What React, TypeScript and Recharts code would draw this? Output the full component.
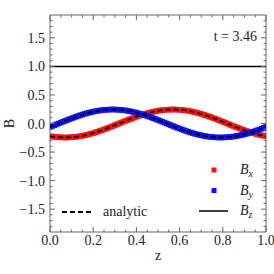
import { ComposedChart, Line, XAxis, YAxis, ReferenceArea, Legend, Label } from "recharts";

const zValues = [
  0, 0.01, 0.02, 0.03, 0.04, 0.05, 0.06, 0.07, 0.08, 0.09, 0.1, 0.11, 0.12, 0.13, 0.14, 0.15, 0.16,
  0.17, 0.18, 0.19, 0.2, 0.21, 0.22, 0.23, 0.24, 0.25, 0.26, 0.27, 0.28, 0.29, 0.3, 0.31, 0.32, 0.33,
  0.34, 0.35, 0.36, 0.37, 0.38, 0.39, 0.4, 0.41, 0.42, 0.43, 0.44, 0.45, 0.46, 0.47, 0.48, 0.49, 0.5,
  0.51, 0.52, 0.53, 0.54, 0.55, 0.56, 0.57, 0.58, 0.59, 0.6, 0.61, 0.62, 0.63, 0.64, 0.65, 0.66, 0.67,
  0.68, 0.69, 0.7, 0.71, 0.72, 0.73, 0.74, 0.75, 0.76, 0.77, 0.78, 0.79, 0.8, 0.81, 0.82, 0.83, 0.84,
  0.85, 0.86, 0.87, 0.88, 0.89, 0.9, 0.91, 0.92, 0.93, 0.94, 0.95, 0.96, 0.97, 0.98, 0.99, 1.0,
];

// numerical Bx (red squares)
const bxValues = [
  -0.222, -0.228, -0.233, -0.237, -0.241, -0.243, -0.245, -0.245, -0.245, -0.243, -0.241, -0.237,
  -0.233, -0.228, -0.222, -0.215, -0.207, -0.198, -0.189, -0.179, -0.168, -0.156, -0.144, -0.131,
  -0.118, -0.104, -0.09, -0.076, -0.061, -0.046, -0.031, -0.015, 0.0, 0.015, 0.031, 0.046, 0.061,
  0.076, 0.09, 0.104, 0.118, 0.131, 0.144, 0.156, 0.168, 0.179, 0.189, 0.198, 0.207, 0.215, 0.222,
  0.228, 0.233, 0.237, 0.241, 0.243, 0.245, 0.245, 0.245, 0.243, 0.241, 0.237, 0.233, 0.228, 0.222,
  0.215, 0.207, 0.198, 0.189, 0.179, 0.168, 0.156, 0.144, 0.131, 0.118, 0.104, 0.09, 0.076, 0.061,
  0.046, 0.031, 0.015, 0.0, -0.015, -0.031, -0.046, -0.061, -0.076, -0.09, -0.104, -0.118, -0.131,
  -0.144, -0.156, -0.168, -0.179, -0.189, -0.198, -0.207, -0.215, -0.222,
];

// numerical By (blue squares)
const byValues = [
  -0.061, -0.046, -0.031, -0.015, 0.0, 0.015, 0.031, 0.046, 0.061, 0.076, 0.09, 0.104, 0.118, 0.131,
  0.144, 0.156, 0.168, 0.179, 0.189, 0.198, 0.207, 0.215, 0.222, 0.228, 0.233, 0.237, 0.241, 0.243,
  0.245, 0.245, 0.245, 0.243, 0.241, 0.237, 0.233, 0.228, 0.222, 0.215, 0.207, 0.198, 0.189, 0.179,
  0.168, 0.156, 0.144, 0.131, 0.118, 0.104, 0.09, 0.076, 0.061, 0.046, 0.031, 0.015, 0.0, -0.015,
  -0.031, -0.046, -0.061, -0.076, -0.09, -0.104, -0.118, -0.131, -0.144, -0.156, -0.168, -0.179,
  -0.189, -0.198, -0.207, -0.215, -0.222, -0.228, -0.233, -0.237, -0.241, -0.243, -0.245, -0.245,
  -0.245, -0.243, -0.241, -0.237, -0.233, -0.228, -0.222, -0.215, -0.207, -0.198, -0.189, -0.179,
  -0.168, -0.156, -0.144, -0.131, -0.118, -0.104, -0.09, -0.076, -0.061,
];

const bzZ = [0, 1];
const bzValues = [1.0, 1.0];

const xMajorTicks = [0, 0.2, 0.4, 0.6, 0.8, 1.0];
const xTicks = [
  0, 0.05, 0.1, 0.15, 0.2, 0.25, 0.3, 0.35, 0.4, 0.45, 0.5, 0.55, 0.6, 0.65, 0.7, 0.75, 0.8, 0.85,
  0.9, 0.95, 1.0,
];
const yMajorTicks = [-1.5, -1.0, -0.5, 0, 0.5, 1.0, 1.5];
const yTicks = [
  -1.8, -1.7, -1.6, -1.5, -1.4, -1.3, -1.2, -1.1, -1.0, -0.9, -0.8, -0.7, -0.6, -0.5, -0.4, -0.3,
  -0.2, -0.1, 0, 0.1, 0.2, 0.3, 0.4, 0.5, 0.6, 0.7, 0.8, 0.9, 1.0, 1.1, 1.2, 1.3, 1.4, 1.5, 1.6,
  1.7, 1.8,
];

const timeLabel = "t = 3.46";

const W = 274;
const H = 274;
const MARGIN = { top: 15, right: 8, bottom: 0, left: 0 };
const Y_AXIS_W = 50;
const X_AXIS_H = 42;
const PLOT_LEFT = MARGIN.left + Y_AXIS_W;
const PLOT_TOP = MARGIN.top;
const PLOT_RIGHT = W - MARGIN.right;
const PLOT_BOTTOM = H - MARGIN.bottom - X_AXIS_H;

const RED = "#ff1010";
const BLUE = "#1010ff";
const FRAME = "#666";
const FONT = "Liberation Serif, Times New Roman, DejaVu Serif, serif";
const textStyle = { fontFamily: FONT, fontSize: 14, fill: "#222" };

const data = zValues.map((z, i) => ({
  z,
  bx: bxValues[i],
  by: byValues[i],
  ax: bxValues[i],
  ay: byValues[i],
}));
const bzData = bzZ.map((z, i) => ({ z, bz: bzValues[i] }));

const isMajor = (v: number, majors: number[]) => majors.some((m) => Math.abs(m - v) < 1e-6);
const fmt = (v: number) => (v < 0 ? "\u2212" + Math.abs(v).toFixed(1) : v.toFixed(1));

function XTick({ x, y, payload }: any) {
  const major = isMajor(payload.value, xMajorTicks);
  const len = major ? 5 : 2.5;
  return (
    <g>
      <line x1={x} x2={x} y1={y} y2={y - len} stroke={FRAME} />
      <line x1={x} x2={x} y1={PLOT_TOP} y2={PLOT_TOP + len} stroke={FRAME} />
      {major && (
        <text x={x} y={y + 13} textAnchor="middle" style={textStyle}>
          {fmt(payload.value)}
        </text>
      )}
    </g>
  );
}

function YTick({ x, y, payload }: any) {
  const major = isMajor(payload.value, yMajorTicks);
  const len = major ? 5 : 2.5;
  return (
    <g>
      <line x1={x} x2={x + len} y1={y} y2={y} stroke={FRAME} />
      <line x1={PLOT_RIGHT} x2={PLOT_RIGHT - len} y1={y} y2={y} stroke={FRAME} />
      {major && (
        <text x={x - 5} y={y + 5} textAnchor="end" style={textStyle}>
          {fmt(payload.value)}
        </text>
      )}
    </g>
  );
}

function square(color: string) {
  return (props: any) => {
    const { cx, cy, index } = props;
    if (cx == null || cy == null) return <g key={index} />;
    return <rect key={index} x={cx - 2.75} y={cy - 2.75} width={5.5} height={5.5} fill={color} />;
  };
}

const legendItems = [
  { kind: "square", color: RED, sub: "x" },
  { kind: "square", color: BLUE, sub: "y" },
  { kind: "line", color: "#000", sub: "z" },
];

function LegendContent() {
  return (
    <svg width={W} height={H} style={{ display: "block" }}>
      <text x={257} y={41} textAnchor="end" style={textStyle}>
        {timeLabel}
      </text>
      <line x1={62} x2={91} y1={212} y2={212} stroke="#000" strokeWidth={1.8} strokeDasharray="5 3" />
      <text x={103} y={216} style={textStyle}>
        analytic
      </text>
      {legendItems.map((it, i) => {
        const cy = 170 + i * 20.5;
        return (
          <g key={it.sub}>
            {it.kind === "square" ? (
              <rect x={211.5} y={cy - 2.5} width={5} height={5} fill={it.color} />
            ) : (
              <line x1={199} x2={228} y1={cy} y2={cy} stroke={it.color} strokeWidth={1.5} />
            )}
            <text x={240} y={cy + 4} style={{ ...textStyle, fontStyle: "italic" }}>
              B
              <tspan dy={3} style={{ fontSize: 10 }}>
                {it.sub}
              </tspan>
            </text>
          </g>
        );
      })}
    </svg>
  );
}

export default function App() {
  const midY = (PLOT_TOP + PLOT_BOTTOM) / 2;
  // dashed analytic curves must sit above the square markers
  const topLayer: any = { zIndex: 1500 };
  return (
    <div style={{ position: "absolute", left: 0, top: 0, width: W, height: H, background: "#fff" }}>
      <ComposedChart width={W} height={H} data={data} margin={MARGIN}>
        <XAxis
          dataKey="z"
          type="number"
          domain={[0, 1]}
          ticks={xTicks}
          interval={0}
          tickSize={0}
          tickMargin={0}
          tickLine={false}
          axisLine={false}
          height={X_AXIS_H}
          tick={<XTick />}
          allowDataOverflow
        >
          <Label
            content={() => (
              <text x={(PLOT_LEFT + PLOT_RIGHT) / 2} y={260} textAnchor="middle" style={textStyle}>
                z
              </text>
            )}
          />
        </XAxis>
        <YAxis
          type="number"
          domain={[-1.9, 1.9]}
          ticks={yTicks}
          interval={0}
          tickSize={0}
          tickMargin={0}
          tickLine={false}
          axisLine={false}
          width={Y_AXIS_W}
          tick={<YTick />}
          allowDataOverflow
        >
          <Label
            content={() => (
              <text
                x={9}
                y={midY}
                transform={`rotate(-90 9 ${midY})`}
                textAnchor="middle"
                dominantBaseline="central"
                style={textStyle}
              >
                B
              </text>
            )}
          />
        </YAxis>
        <ReferenceArea x1={0} x2={1} y1={-1.9} y2={1.9} fill="none" stroke={FRAME} strokeWidth={1} ifOverflow="visible" />
        <Line dataKey="bx" stroke="none" dot={square(RED)} activeDot={false} isAnimationActive={false} />
        <Line dataKey="by" stroke="none" dot={square(BLUE)} activeDot={false} isAnimationActive={false} />
        <Line {...topLayer} dataKey="ax" type="monotone" stroke="#000" strokeWidth={1.8} strokeDasharray="5 3" dot={false} activeDot={false} isAnimationActive={false} />
        <Line {...topLayer} dataKey="ay" type="monotone" stroke="#000" strokeWidth={1.8} strokeDasharray="5 3" dot={false} activeDot={false} isAnimationActive={false} />
        <Line {...topLayer} data={bzData} dataKey="bz" stroke="#000" strokeWidth={1.5} dot={false} activeDot={false} isAnimationActive={false} />
        <Legend
          layout="horizontal"
          verticalAlign="middle"
          align="center"
          width={W}
          height={H}
          wrapperStyle={{ left: 0, top: 0, pointerEvents: "none" }}
          content={<LegendContent />}
        />
      </ComposedChart>
    </div>
  );
}
